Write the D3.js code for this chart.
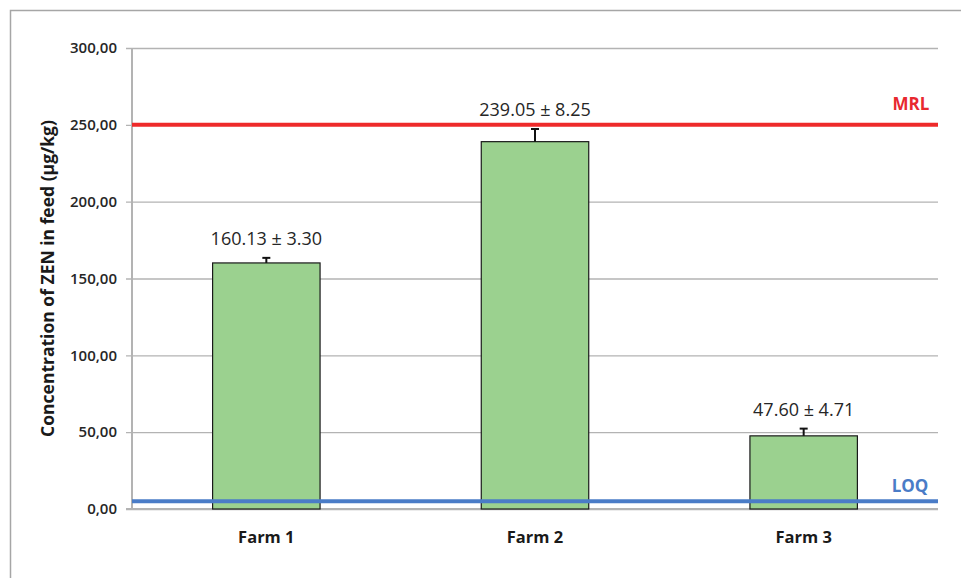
<!DOCTYPE html>
<html>
<head>
<meta charset="utf-8">
<script src="https://cdn.jsdelivr.net/npm/d3@7"></script>
<style>
  body { margin: 0; background: #fff; }
  svg { display: block; font-family: "Open Sans", "Liberation Sans", sans-serif; }
</style>
</head>
<body>
<svg id="chart" width="961" height="578"></svg>
<script>
// data
var farms = ["Farm 1", "Farm 2", "Farm 3"];
var means = [160.13, 239.05, 47.60];
var errs = [3.30, 8.25, 4.71];
var yTicks = [0, 50, 100, 150, 200, 250, 300];
var mrl = 250;
var loq = 5;

var svg = d3.select("#chart");
var margin = {left: 132, top: 48, right: 23, bottom: 69};
var W = 961, H = 578;

// outer frame (top + left only, rest is cropped)
svg.append("path")
  .attr("d", "M10.5,578 L10.5,10.5 L961,10.5")
  .attr("fill", "none").attr("stroke", "#a6a6a6").attr("stroke-width", 1.5);

var x = d3.scaleBand().domain(farms)
  .range([margin.left, W - margin.right]).paddingInner(0.6).paddingOuter(0.3);
var y = d3.scaleLinear().domain([0, 300]).range([H - margin.bottom, margin.top]);

// gridlines + y ticks
var yAxis = d3.axisLeft(y).tickValues(yTicks)
  .tickSize(-(W - margin.right - margin.left))
  .tickPadding(15)
  .tickFormat(d => d3.format(".2f")(d).replace(".", ","));
var gy = svg.append("g").attr("transform", "translate(" + margin.left + ",0)").call(yAxis);
gy.select(".domain").remove();
gy.selectAll(".tick line").attr("stroke", "#b3b3b3").attr("stroke-width", 1.3).attr("x1", -6);
gy.selectAll(".tick text")
  .attr("font-size", 15).attr("font-weight", 600).attr("fill", "#262626")
  .attr("font-family", "'Open Sans', sans-serif");

// axes lines
svg.append("line").attr("x1", margin.left).attr("x2", margin.left)
  .attr("y1", margin.top).attr("y2", y(0))
  .attr("stroke", "#b3b3b3").attr("stroke-width", 2);
svg.append("line").attr("x1", margin.left - 6).attr("x2", W - margin.right)
  .attr("y1", y(0)).attr("y2", y(0))
  .attr("stroke", "#b3b3b3").attr("stroke-width", 2);

// bars
svg.selectAll("rect.bar").data(farms).enter().append("rect")
  .attr("class", "bar")
  .attr("x", d => x(d))
  .attr("width", x.bandwidth())
  .attr("y", (d, i) => y(means[i]))
  .attr("height", (d, i) => y(0) - y(means[i]))
  .attr("fill", "#9bd18f").attr("stroke", "#1a1a1a").attr("stroke-width", 1.2);

// error bars (plus direction)
var eb = svg.selectAll("g.err").data(farms).enter().append("g").attr("class", "err");
eb.append("line")
  .attr("x1", d => x(d) + x.bandwidth() / 2).attr("x2", d => x(d) + x.bandwidth() / 2)
  .attr("y1", (d, i) => y(means[i])).attr("y2", (d, i) => y(means[i] + errs[i]))
  .attr("stroke", "#111").attr("stroke-width", 2);
eb.append("line")
  .attr("x1", d => x(d) + x.bandwidth() / 2 - 4).attr("x2", d => x(d) + x.bandwidth() / 2 + 4)
  .attr("y1", (d, i) => y(means[i] + errs[i])).attr("y2", (d, i) => y(means[i] + errs[i]))
  .attr("stroke", "#111").attr("stroke-width", 2);

// MRL / LOQ lines
svg.append("line").attr("x1", margin.left).attr("x2", W - margin.right)
  .attr("y1", y(mrl)).attr("y2", y(mrl))
  .attr("stroke", "#ee2a2a").attr("stroke-width", 4);
svg.append("line").attr("x1", margin.left).attr("x2", W - margin.right)
  .attr("y1", y(loq)).attr("y2", y(loq))
  .attr("stroke", "#4a7cc7").attr("stroke-width", 4);

svg.append("text").attr("x", 911).attr("y", y(mrl) - 15)
  .attr("text-anchor", "middle").attr("font-size", 17).attr("font-weight", 700)
  .attr("fill", "#e8282f").text("MRL");
svg.append("text").attr("x", 910).attr("y", y(loq) - 9)
  .attr("text-anchor", "middle").attr("font-size", 17).attr("font-weight", 700)
  .attr("fill", "#4a7cc7").text("LOQ");

// value labels
svg.selectAll("text.val").data(farms).enter().append("text")
  .attr("class", "val")
  .attr("x", d => x(d) + x.bandwidth() / 2)
  .attr("y", (d, i) => y(means[i] + errs[i]) - 13)
  .attr("text-anchor", "middle").attr("font-size", 18).attr("fill", "#262626")
  .text((d, i) => d3.format(".2f")(means[i]) + " \u00b1 " + d3.format(".2f")(errs[i]));

// category labels
svg.selectAll("text.cat").data(farms).enter().append("text")
  .attr("class", "cat")
  .attr("x", d => x(d) + x.bandwidth() / 2)
  .attr("y", 543)
  .attr("text-anchor", "middle").attr("font-size", 16.5).attr("font-weight", 700)
  .attr("fill", "#1a1a1a").text(d => d);

// y title
svg.append("text")
  .attr("transform", "translate(54," + ((margin.top + y(0)) / 2) + ") rotate(-90)")
  .attr("text-anchor", "middle").attr("font-size", 17.5).attr("font-weight", 700)
  .attr("fill", "#1a1a1a").text("Concentration of ZEN in feed (\u00b5g/kg)");
</script>
</body>
</html>
